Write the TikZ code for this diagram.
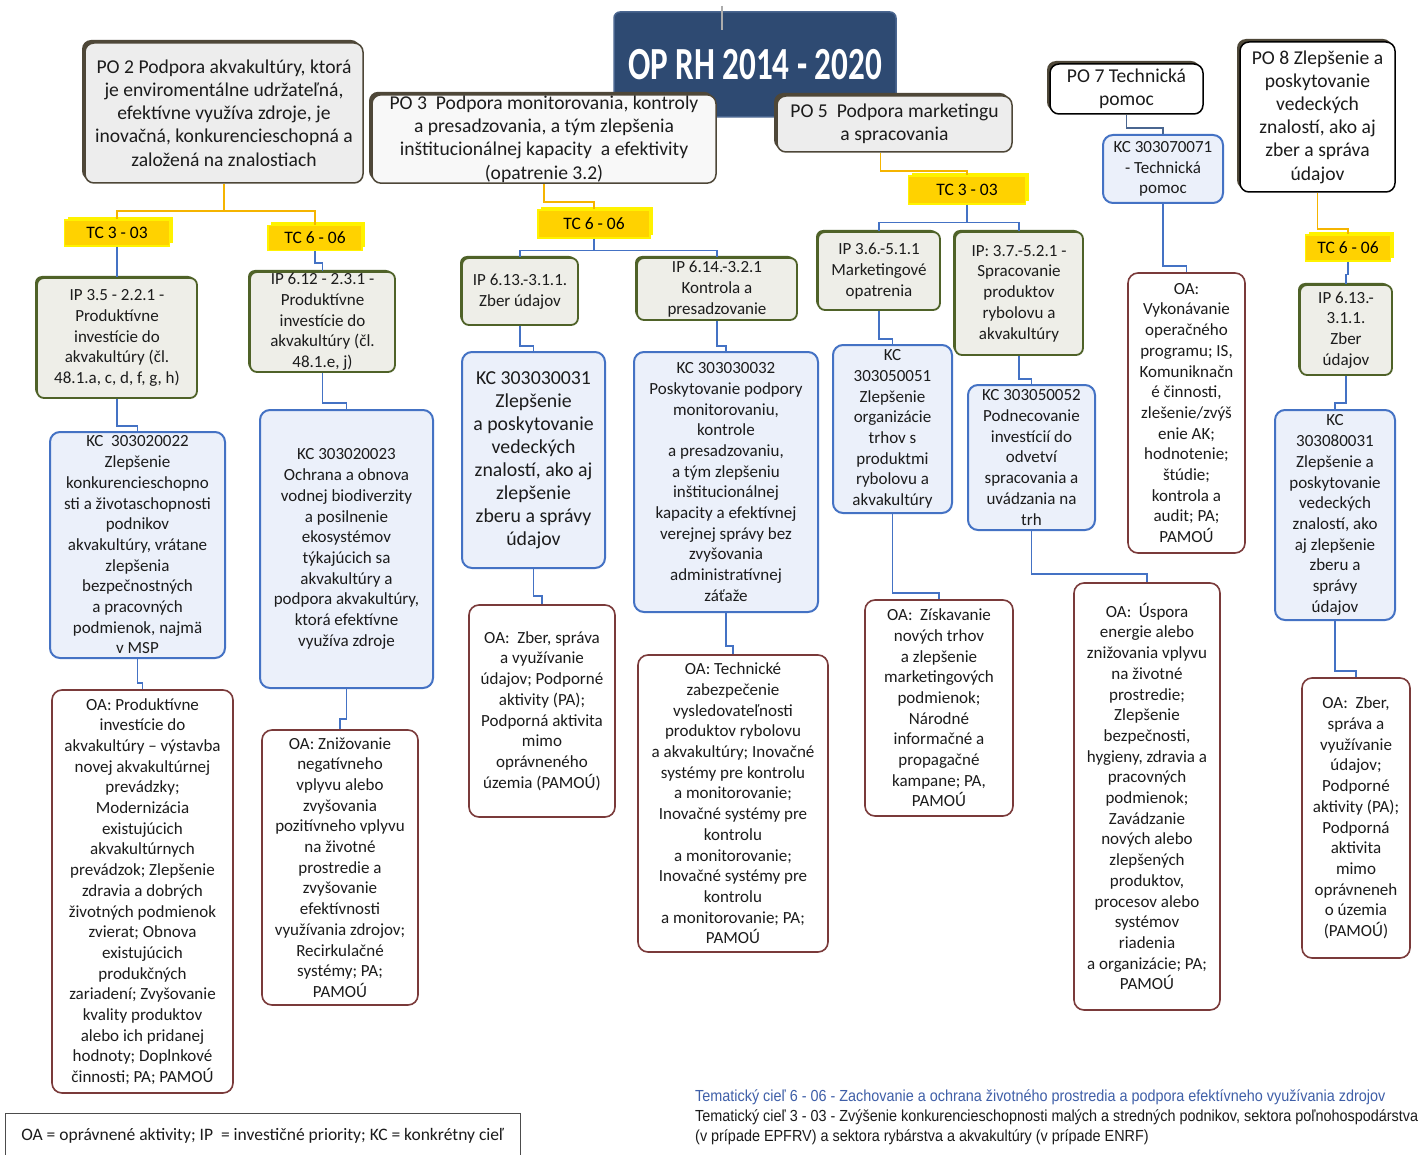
\documentclass[tikz,border=0pt]{standalone}
\usepackage{fontspec}
\setmainfont{Carlito}
\newfontfamily\titlefont[FakeStretch=0.72]{Carlito}
\newfontfamily\notefont[FakeStretch=0.9]{Liberation Sans}
\usetikzlibrary{positioning,shadows,backgrounds}

\definecolor{navy}{HTML}{2E4A72}
\definecolor{navyedge}{HTML}{4A6690}
\definecolor{textgray}{HTML}{1C1C1C}
\definecolor{pofill}{HTML}{EDEDED}
\definecolor{poedge}{HTML}{4E4738}
\definecolor{tcgold}{HTML}{FFD200}
\definecolor{tcyellow}{HTML}{FFF200}
\definecolor{tcwire}{HTML}{F5B400}
\definecolor{ipfill}{HTML}{EEEEE8}
\definecolor{ipedge}{HTML}{4F6228}
\definecolor{kcfill}{HTML}{EBF0FA}
\definecolor{kcedge}{HTML}{4472C4}
\definecolor{oaedge}{HTML}{7A3A3A}
\definecolor{noteblue}{HTML}{3F5FA8}

\begin{document}
\begin{tikzpicture}[x=1pt,y=-1pt,
	every node/.style={align=center,inner sep=1pt,text=textgray,font=\fontsize{17}{20.7}\selectfont},
	titlebox/.style={rounded corners=6pt,fill=navy,draw=navyedge,line width=1.5pt,text=white,font=\titlefont\bfseries\fontsize{46}{50}\selectfont},
	pobox/.style={rounded corners=9pt,fill=pofill,draw=poedge,line width=1.5pt,general shadow={fill=poedge,shadow xshift=-3pt,shadow yshift=3pt},font=\fontsize{19.6}{23.2}\selectfont},
	tcbox/.style={fill=tcgold,draw=tcyellow,line width=1.2pt,general shadow={fill=tcyellow,shadow xshift=3pt,shadow yshift=3pt},text=black,font=\fontsize{17.5}{20}\selectfont},
	ipbox/.style={rounded corners=7pt,fill=ipfill,draw=ipedge,line width=1.8pt,general shadow={fill=ipedge,shadow xshift=-2pt,shadow yshift=2pt}},
	kcbox/.style={rounded corners=10pt,fill=kcfill,draw=kcedge,line width=2pt},
	oabox/.style={rounded corners=10pt,fill=white,draw=oaedge,line width=1.6pt},
	poline/.style={draw=gray!65,line width=1.8pt},
	tcline/.style={draw=tcwire,line width=1.6pt},
	kcline/.style={draw=kcedge,line width=1.6pt},
	legendbox/.style={draw=black!70,line width=1pt,minimum width=515pt,minimum height=46pt,font=\fontsize{17.5}{20}\selectfont},
	notetext/.style={anchor=west,inner sep=0pt,font=\notefont\fontsize{16}{18}\selectfont}]

	\path[use as bounding box,fill=white] (0,0) rectangle (1426,1155);

	% priority axes
	\node[titlebox,minimum width=282pt,minimum height=105pt]			(title)	at (755,64.5)	{OP RH 2014 - 2020};
	\node[pobox,minimum width=278pt,minimum height=140pt]				(po2)	at (224,113)	{PO 2 Podpora akvakultúry, ktorá\\je enviromentálne udržateľná,\\efektívne využíva zdroje, je\\inovačná, konkurencieschopná a\\založená na znalostiach};
	\node[pobox,fill=white!60!pofill,minimum width=344pt,minimum height=88pt]	(po3)	at (544,139)	{PO 3\ \ Podpora monitorovania, kontroly\\a presadzovania, a tým zlepšenia\\inštitucionálnej kapacity\ \ a efektivity\\(opatrenie 3.2)};
	\node[pobox,minimum width=235pt,minimum height=56pt]				(po5)	at (894.5,124)	{PO 5\ \ Podpora marketingu\\a spracovania};
	\node[pobox,fill=white,draw=black,minimum width=153pt,minimum height=50pt]	(po7)	at (1126.5,89)	{PO 7 Technická\\pomoc};
	\node[pobox,fill=white,draw=black,minimum width=155pt,minimum height=150pt]	(po8)	at (1317.5,117)	{PO 8 Zlepšenie a\\poskytovanie\\vedeckých\\znalostí, ako aj\\zber a správa\\údajov};

	\coordinate (tick top) at (722,6);
	\coordinate (tick end) at (722,30);
	\draw[poline] (tick top) -- (tick end);

	% thematic goals
	\node[tcbox,minimum width=105pt,minimum height=26pt]	(tc1)	at (117,233)	{TC 3 - 03};
	\node[tcbox,minimum width=94pt,minimum height=25pt]	(tc2)	at (315,238)	{TC 6 - 06};
	\node[tcbox,minimum width=112pt,minimum height=28pt]	(tc3)	at (594,224)	{TC 6 - 06};
	\node[tcbox,minimum width=117pt,minimum height=28pt]	(tc4)	at (967,190)	{TC 3 - 03};
	\node[tcbox,minimum width=85pt,minimum height=26pt]	(tc5)	at (1348,248)	{TC 6 - 06};

	% investment priorities
	\node[ipbox,minimum width=160pt,minimum height=120pt]	(ip1)	at (117,338)	{IP 3.5 - 2.2.1 -\\Produktívne\\investície do\\akvakultúry (čl.\\48.1.a, c, d, f, g, h)};
	\node[ipbox,minimum width=145pt,minimum height=100pt]	(ip2)	at (322.5,322)	{IP 6.12 - 2.3.1 -\\Produktívne\\investície do\\akvakultúry (čl.\\48.1.e, j)};
	\node[ipbox,minimum width=116pt,minimum height=67pt]	(ip3)	at (520,291.5)	{IP 6.13.-3.1.1.\\Zber údajov};
	\node[ipbox,minimum width=160pt,minimum height=62pt]	(ip4)	at (717,289)	{IP 6.14.-3.2.1\\Kontrola a\\presadzovanie};
	\node[ipbox,minimum width=122pt,minimum height=78pt]	(ip5)	at (879,271)	{IP 3.6.-5.1.1\\Marketingové\\opatrenia};
	\node[ipbox,minimum width=128pt,minimum height=123pt]	(ip6)	at (1019,293.5)	{IP: 3.7.-5.2.1 -\\Spracovanie\\produktov\\rybolovu a\\akvakultúry};
	\node[ipbox,minimum width=92pt,minimum height=90pt]	(ip7)	at (1346,330)	{IP 6.13.-\\3.1.1.\\Zber\\údajov};

	% specific goals
	\node[kcbox,minimum width=175pt,minimum height=226pt]	(kc1)	at (137.5,545)	{KC\ \ 303020022\\Zlepšenie\\konkurencieschopno\\sti a životaschopnosti\\podnikov\\akvakultúry, vrátane\\zlepšenia\\bezpečnostných\\a pracovných\\podmienok, najmä\\v MSP};
	\node[kcbox,minimum width=173pt,minimum height=278pt]	(kc2)	at (346.5,549)	{KC 303020023\\Ochrana a obnova\\vodnej biodiverzity\\a posilnenie\\ekosystémov\\týkajúcich sa\\akvakultúry a\\podpora akvakultúry,\\ktorá efektívne\\využíva zdroje};
	\node[kcbox,minimum width=143pt,minimum height=216pt,font=\fontsize{19.8}{23}\selectfont]	(kc3)	at (533.5,460)	{KC 303030031\\Zlepšenie\\a poskytovanie\\vedeckých\\znalostí, ako aj\\zlepšenie\\zberu a správy\\údajov};
	\node[kcbox,minimum width=184pt,minimum height=260pt]	(kc4)	at (726,482)	{KC 303030032\\Poskytovanie podpory\\monitorovaniu,\\kontrole\\a presadzovaniu,\\a tým zlepšeniu\\inštitucionálnej\\kapacity a efektívnej\\verejnej správy bez\\zvyšovania\\administratívnej\\záťaže};
	\node[kcbox,minimum width=119pt,minimum height=168pt]	(kc5)	at (892.5,429)	{KC\\303050051\\Zlepšenie\\organizácie\\trhov s\\produktmi\\rybolovu a\\akvakultúry};
	\node[kcbox,minimum width=127pt,minimum height=145pt]	(kc6)	at (1031.5,457.5)	{KC 303050052\\Podnecovanie\\investícií do\\odvetví\\spracovania a\\uvádzania na\\trh};
	\node[kcbox,minimum width=120pt,minimum height=68pt]	(kc7)	at (1163,169)	{KC 303070071\\- Technická\\pomoc};
	\node[kcbox,minimum width=120pt,minimum height=210pt]	(kc8)	at (1335,515)	{KC\\303080031\\Zlepšenie a\\poskytovanie\\vedeckých\\znalostí, ako\\aj zlepšenie\\zberu a\\správy\\údajov};

	% eligible activities
	\node[oabox,minimum width=181pt,minimum height=403pt]	(oa1)	at (142.5,891.5)	{OA: Produktívne\\investície do\\akvakultúry -- výstavba\\novej akvakultúrnej\\prevádzky;\\Modernizácia\\existujúcich\\akvakultúrnych\\prevádzok; Zlepšenie\\zdravia a dobrých\\životných podmienok\\zvierat; Obnova\\existujúcich\\produkčných\\zariadení; Zvyšovanie\\kvality produktov\\alebo ich pridanej\\hodnoty; Doplnkové\\činnosti; PA; PAMOÚ};
	\node[oabox,minimum width=156pt,minimum height=275pt]	(oa2)	at (340,867.5)	{OA: Znižovanie\\negatívneho\\vplyvu alebo\\zvyšovania\\pozitívneho vplyvu\\na životné\\prostredie a\\zvyšovanie\\efektívnosti\\využívania zdrojov;\\Recirkulačné\\systémy; PA;\\PAMOÚ};
	\node[oabox,minimum width=146pt,minimum height=212pt]	(oa3)	at (542,711)	{OA:\ \ Zber, správa\\a využívanie\\údajov; Podporné\\aktivity (PA);\\Podporná aktivita\\mimo\\oprávneného\\územia (PAMOÚ)};
	\node[oabox,minimum width=190pt,minimum height=297pt]	(oa4)	at (733,803.5)	{OA: Technické\\zabezpečenie\\vysledovateľnosti\\produktov rybolovu\\a akvakultúry; Inovačné\\systémy pre kontrolu\\a monitorovanie;\\Inovačné systémy pre\\kontrolu\\a monitorovanie;\\Inovačné systémy pre\\kontrolu\\a monitorovanie; PA;\\PAMOÚ};
	\node[oabox,minimum width=148pt,minimum height=216pt]	(oa5)	at (939,708)	{OA:\ \ Získavanie\\nových trhov\\a zlepšenie\\marketingových\\podmienok;\\Národné\\informačné a\\propagačné\\kampane; PA,\\PAMOÚ};
	\node[oabox,minimum width=146pt,minimum height=427pt]	(oa6)	at (1147,796.5)	{OA:\ \ Úspora\\energie alebo\\znižovania vplyvu\\na životné\\prostredie;\\Zlepšenie\\bezpečnosti,\\hygieny, zdravia a\\pracovných\\podmienok;\\Zavádzanie\\nových alebo\\zlepšených\\produktov,\\procesov alebo\\systémov\\riadenia\\a organizácie; PA;\\PAMOÚ};
	\node[oabox,minimum width=117pt,minimum height=280pt]	(oa7)	at (1186.5,413)	{OA:\\Vykonávanie\\operačného\\programu; IS,\\Komuniknačn\\é činnosti,\\zlešenie/zvýš\\enie AK;\\hodnotenie;\\štúdie;\\kontrola a\\audit; PA;\\PAMOÚ};
	\node[oabox,minimum width=108pt,minimum height=280pt]	(oa8)	at (1356,818)	{OA:\ \ Zber,\\správa a\\využívanie\\údajov;\\Podporné\\aktivity (PA);\\Podporná\\aktivita\\mimo\\oprávneneh\\o územia\\(PAMOÚ)};

	% legend and notes
	\node[legendbox]	(legend)	at (262.5,1136)	{OA = oprávnené aktivity; IP\ \ = investičné priority; KC = konkrétny cieľ};
	\node[notetext,text=noteblue]					(note1)	at (695,1097)	{Tematický cieľ 6 - 06 - Zachovanie a ochrana životného prostredia a podpora efektívneho využívania zdrojov};
	\node[notetext,below=5pt of note1.south west,anchor=north west]	(note2)	{Tematický cieľ 3 - 03 - Zvýšenie konkurencieschopnosti malých a stredných podnikov, sektora poľnohospodárstva};
	\node[notetext,below=4pt of note2.south west,anchor=north west]	(note3)	{(v prípade EPFRV) a sektora rybárstva a akvakultúry (v prípade ENRF)};

	\begin{scope}[on background layer]
		\draw[poline] ([yshift=-15pt]po2.north east) -- ([yshift=-27pt]title.west);
		\draw[poline] ([yshift=-25pt]title.east) -- ([yshift=70pt]po8.west);
	\end{scope}

	\draw[tcline] (po2.south) -- ++(0,27) -| (tc1.north);
	\draw[tcline] (po2.south) -- ++(0,27) -| (tc2.north);
	\draw[tcline] (po3.south) -- ++(0,18) -| (tc3.north);
	\draw[tcline] ([xshift=-14pt]po5.south) -- ++(0,18) -| (tc4.north);
	\draw[tcline] (po8.south) -- ++(0,36) -| (tc5.north);

	\draw[kcline] (tc1.south) -- ++(0,14) -| (ip1.north);
	\draw[kcline] (tc2.south) -- ++(0,12) -| (ip2.north);
	\draw[kcline] (tc3.south) -- ++(0,12) -| (ip3.north);
	\draw[kcline] (tc3.south) -- ++(0,12) -| (ip4.north);
	\draw[kcline] (tc4.south) -- ++(0,18) -| (ip5.north);
	\draw[kcline] (tc4.south) -- ++(0,18) -| (ip6.north);
	\draw[kcline] (tc5.south) -- ++(0,13) -| (ip7.north);
	\draw[kcline,draw=navyedge] (po7.south) -- ++(0,13) -| (kc7.north);

	\draw[kcline] (ip1.south) -- ++(0,27) -| (kc1.north);
	\draw[kcline] (ip2.south) -- ++(0,30) -| (kc2.north);
	\draw[kcline] (ip3.south) -- ++(0,20) -| (kc3.north);
	\draw[kcline] (ip4.south) -- ++(0,25) -| (kc4.north);
	\draw[kcline] (ip5.south) -- ++(0,28) -| (kc5.north);
	\draw[kcline] (ip6.south) -- ++(0,23) -| (kc6.north);
	\draw[kcline] (ip7.south) -- ++(0,27) -| (kc8.north);

	\draw[kcline] (kc1.south) -- ++(0,24) -| (oa1.north);
	\draw[kcline] (kc2.south) -- ++(0,30) -| (oa2.north);
	\draw[kcline] (kc3.south) -- ++(0,27) -| (oa3.north);
	\draw[kcline] (kc4.south) -- ++(0,33) -| (oa4.north);
	\draw[kcline] (kc5.south) -- ++(0,79) -| (oa5.north);
	\draw[kcline] (kc6.south) -- ++(0,43) -| (oa6.north);
	\draw[kcline] (kc7.south) -- ++(0,62) -| (oa7.north);
	\draw[kcline] (kc8.south) -- ++(0,50) -| (oa8.north);
\end{tikzpicture}
\end{document}
